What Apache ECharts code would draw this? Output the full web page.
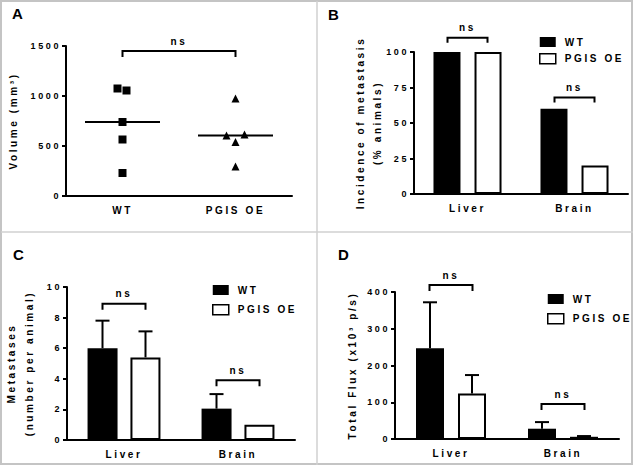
<!DOCTYPE html>
<html><head><meta charset="utf-8">
<script src="https://cdn.jsdelivr.net/npm/echarts@6/dist/echarts.min.js"></script>
<style>
html,body{margin:0;padding:0;background:#fff}
#c{width:634px;height:466px}
#c text{letter-spacing:2.6px}
</style></head><body><div id="c"></div>
<script>
// ---------- Panel A: tumour volume ----------
const groupsA = ['WT', 'PGIS OE'];
const volWT = [1075, 1055, 740, 565, 230];
const volPGIS = [975, 605, 615, 540, 295];
const bracketA = 1450;
// ---------- Panel B: incidence of metastasis ----------
const organs = ['Liver', 'Brain'];
const incidenceWT = [100, 60];
const incidencePGIS = [100, 20];
const bracketB = [110, 68];
// ---------- Panel C: metastases per animal ----------
const metWT = [6.0, 2.05];
const metWTerr = [1.8, 0.95];
const metPGIS = [5.4, 1.0];
const metPGISerr = [1.7, 0];
const bracketC = [8.9, 3.9];
// ---------- Panel D: total flux ----------
const fluxWT = [247, 28];
const fluxWTerr = [125, 18];
const fluxPGIS = [124, 6];
const fluxPGISerr = [50, 2];
const bracketD = [419, 95];
const seriesNames = ['WT', 'PGIS OE'];
const nsLabel = 'ns';

// ---------- styling ----------
const F = '"Liberation Sans", Arial, sans-serif';
const jitterWT = [-5, 4, 0, 0, 0];
const jitterPGIS = [0, -9, 9, 0, 0];

function median(a){ const s=[...a].sort((x,y)=>x-y); return s[Math.floor(s.length/2)]; }

function yAx(grid, max, interval, name, gap, lh){
  return {type:'value', gridIndex:grid, min:0, max:max, interval:interval,
    name:name, nameLocation:'middle', nameGap:gap, nameRotate:90,
    nameTextStyle:{fontSize:10, fontWeight:'bold', fontFamily:F, color:'#000', lineHeight:lh||12},
    axisLine:{show:true, lineStyle:{color:'#000', width:2}},
    axisTick:{show:true, length:4, lineStyle:{color:'#000', width:2}},
    axisLabel:{fontSize:9, fontWeight:'bold', fontFamily:F, color:'#000', margin:5, formatter:v=>String(v)},
    splitLine:{show:false}};
}
function xAx(grid, cats){
  return {type:'category', gridIndex:grid, data:cats,
    axisLine:{lineStyle:{color:'#000', width:2}},
    axisTick:{alignWithLabel:true, length:4, lineStyle:{color:'#000', width:2}},
    axisLabel:{fontSize:10, fontWeight:'bold', fontFamily:F, color:'#000', margin:9},
    splitLine:{show:false}};
}
function errSeries(ax, vals, errs, off){
  return {type:'custom', xAxisIndex:ax, yAxisIndex:ax, silent:true, z:5,
    data: vals.map((v,i)=>[i, v, errs[i]]), encode:{x:0, y:1},
    renderItem(params, api){
      const i=api.value(0), v=api.value(1), e=api.value(2);
      if(!e) return {type:'group', children:[]};
      const p0=api.coord([i,v]), p1=api.coord([i,v+e]);
      const x=p0[0]+off;
      return {type:'group', children:[
        {type:'line', shape:{x1:x,y1:p0[1],x2:x,y2:p1[1]}, style:{stroke:'#000', lineWidth:2}},
        {type:'line', shape:{x1:x-7,y1:p1[1],x2:x+7,y2:p1[1]}, style:{stroke:'#000', lineWidth:2}}
      ]};
    }};
}
function bracketShape(x1, x2, y, drop){
  return [
    {type:'polyline', shape:{points:[[x1,y+drop],[x1,y],[x2,y],[x2,y+drop]]}, style:{stroke:'#000', fill:null, lineWidth:2}},
    {type:'text', x:(x1+x2)/2, y:y-10, style:{text:nsLabel, align:'center', verticalAlign:'middle', fontSize:10, fontWeight:'bold', fontFamily:F, fill:'#000'}}
  ];
}
function bracketSeries(ax, levels, off, drop){
  return {type:'custom', xAxisIndex:ax, yAxisIndex:ax, silent:true, z:6,
    data: levels.map((l,i)=>[i,l]), encode:{x:0, y:1},
    renderItem(params, api){
      const p=api.coord([api.value(0), api.value(1)]);
      return {type:'group', children:bracketShape(p[0]-off, p[0]+off, p[1], drop)};
    }};
}
function barPair(ax, wt, pg, bw, gap){
  return [
    {type:'bar', name:seriesNames[0], xAxisIndex:ax, yAxisIndex:ax, data:wt, barWidth:bw, barGap:gap, itemStyle:{color:'#000'}, z:3},
    {type:'bar', name:seriesNames[1], xAxisIndex:ax, yAxisIndex:ax, data:pg, barWidth:bw, barGap:gap, itemStyle:{color:'#fff', borderColor:'#000', borderWidth:2}, z:3}
  ];
}
function legendAt(left, top, gap){
  return {left:left, top:top, orient:'vertical', itemWidth:16, itemHeight:10, itemGap:gap, padding:0,
    selectedMode:false, icon:'rect',
    textStyle:{fontSize:10, fontWeight:'bold', fontFamily:F, color:'#000', lineHeight:10, padding:[0,0,0,4]},
    data:[{name:seriesNames[0], itemStyle:{color:'#000', borderWidth:0}},
          {name:seriesNames[1], itemStyle:{color:'#fff', borderColor:'#000', borderWidth:1.5}}]};
}

const chart = echarts.init(document.getElementById('c'), null, {renderer:'svg', width:634, height:466});
const option = {
  animation:false,
  backgroundColor:'#fff',
  grid:[
    {left:66, top:46, width:226, height:150},
    {left:414, top:52, width:214, height:142},
    {left:67, top:287, width:228, height:153},
    {left:395, top:292, width:224, height:147}
  ],
  xAxis:[xAx(0, groupsA), xAx(1, organs), xAx(2, organs), xAx(3, organs)],
  yAxis:[
    yAx(0, 1500, 500, 'Volume (mm³)', 47),
    yAx(1, 100, 25, 'Incidence of metastasis\n(% animals)', 28, 17),
    yAx(2, 10, 2, 'Metastases\n(number per animal)', 29, 18),
    yAx(3, 400, 100, 'Total Flux (x10³ p/s)', 37)
  ],
  legend:[legendAt(539, 37, 6), legendAt(212, 285, 9), legendAt(547, 294, 9)],
  series:[
    // Panel A
    {type:'scatter', name:'mean', xAxisIndex:0, yAxisIndex:0, symbol:'rect', symbolSize:[75,2], z:2,
      itemStyle:{color:'#000', opacity:1}, data:[[0, median(volWT)], [1, median(volPGIS)]]},
    {type:'scatter', name:'WT A', xAxisIndex:0, yAxisIndex:0, symbol:'rect', symbolSize:8, z:4,
      itemStyle:{color:'#000', opacity:1}, data:volWT.map((v,i)=>({value:[0,v], symbolOffset:[jitterWT[i],0]}))},
    {type:'scatter', name:'PGIS A', xAxisIndex:0, yAxisIndex:0, symbol:'triangle', symbolSize:8, z:4,
      itemStyle:{color:'#000', opacity:1}, data:volPGIS.map((v,i)=>({value:[1,v], symbolOffset:[jitterPGIS[i],0]}))},
    {type:'custom', xAxisIndex:0, yAxisIndex:0, silent:true, z:6, data:[[0,1,bracketA]], encode:{x:0, y:2},
      renderItem(params, api){
        const a=api.coord([api.value(0), api.value(2)]), b=api.coord([api.value(1), api.value(2)]);
        return {type:'group', children:bracketShape(a[0], b[0], a[1], 6)};
      }},
    // Panel B
    ...barPair(1, incidenceWT, incidencePGIS, 27, '52%'),
    bracketSeries(1, bracketB, 20, 5),
    // Panel C
    ...barPair(2, metWT, metPGIS, 30, '43%'),
    errSeries(2, metWT, metWTerr, -21.5),
    errSeries(2, metPGIS, metPGISerr, 21.5),
    bracketSeries(2, bracketC, 21.5, 6),
    // Panel D
    ...barPair(3, fluxWT, fluxPGIS, 28, '50%'),
    errSeries(3, fluxWT, fluxWTerr, -21),
    errSeries(3, fluxPGIS, fluxPGISerr, 21),
    bracketSeries(3, bracketD, 21.5, 6)
  ],
  graphic:[
    {type:'rect', shape:{x:1, y:1, width:631, height:463}, style:{fill:null, stroke:'#c4c4c4', lineWidth:2}, silent:true},
    {type:'line', shape:{x1:317, y1:1, x2:317, y2:465}, style:{stroke:'#d0d0d0', lineWidth:1.5}, silent:true},
    {type:'line', shape:{x1:1, y1:232, x2:633, y2:232}, style:{stroke:'#d0d0d0', lineWidth:1.5}, silent:true},
    {type:'text', left:12, top:6, style:{text:'A', fontSize:15, fontWeight:'bold', fontFamily:F, fill:'#000'}},
    {type:'text', left:328, top:7, style:{text:'B', fontSize:15, fontWeight:'bold', fontFamily:F, fill:'#000'}},
    {type:'text', left:13, top:247, style:{text:'C', fontSize:15, fontWeight:'bold', fontFamily:F, fill:'#000'}},
    {type:'text', left:338, top:247, style:{text:'D', fontSize:15, fontWeight:'bold', fontFamily:F, fill:'#000'}}
  ]
};
chart.setOption(option);
</script></body></html>
